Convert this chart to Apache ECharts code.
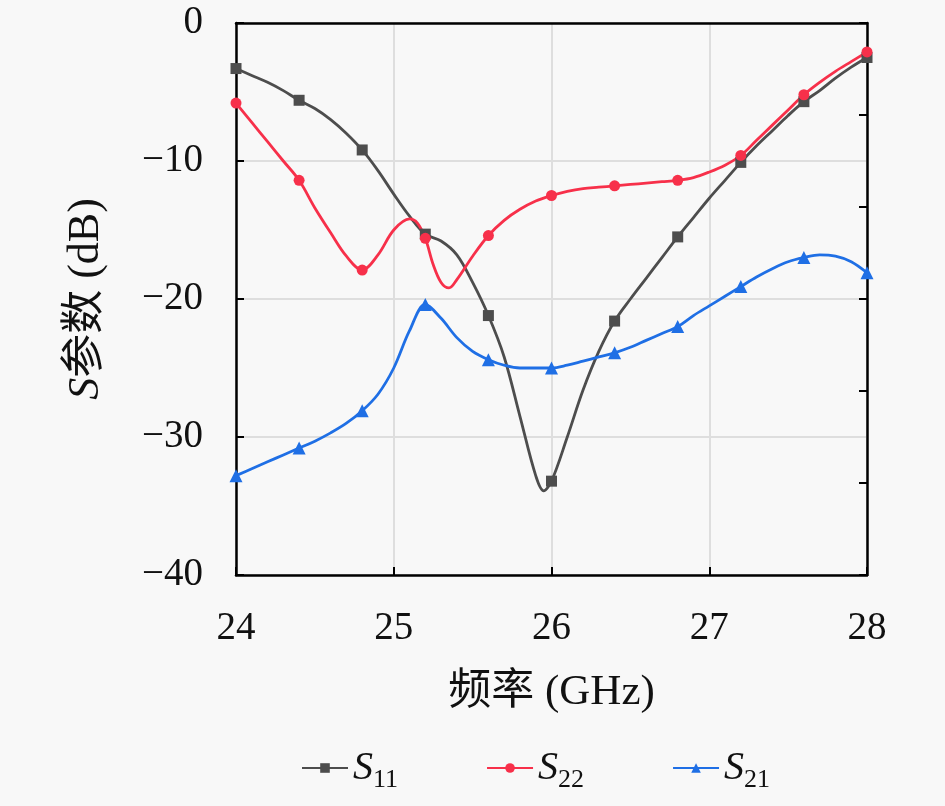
<!DOCTYPE html>
<html>
<head>
<meta charset="utf-8">
<style>html,body{margin:0;padding:0;background:#f8f8f8;}#c{width:945px;height:806px;}</style>
<script src="https://cdn.jsdelivr.net/npm/echarts@6/dist/echarts.min.js"></script>
</head>
<body>
<div id="c"></div>
<script>
const xTicks = [24, 25, 26, 27, 28];
const yTicks = [0, -10, -20, -30, -40];
const markerStep = 0.4;

const s11Freq = [24,24.1,24.2,24.3,24.4,24.5,24.6,24.7,24.8,24.9,25.0,25.1,25.2,25.3,25.4,25.5,25.6,25.7,25.8,25.9,25.95,26.0,26.1,26.2,26.3,26.4,26.5,26.6,26.7,26.8,26.9,27.0,27.1,27.2,27.3,27.4,27.5,27.6,27.7,27.8,27.9,28.0];
const s11 = [-3.3,-3.8,-4.3,-4.9,-5.6,-6.2,-7.0,-8.0,-9.2,-10.7,-12.4,-14.0,-15.3,-15.8,-16.8,-18.8,-21.2,-24.2,-28.5,-32.8,-33.9,-33.2,-30.0,-26.6,-23.8,-21.6,-20.0,-18.5,-17.0,-15.5,-14.1,-12.7,-11.4,-10.1,-8.9,-7.8,-6.7,-5.7,-4.9,-4.0,-3.2,-2.5];

const s22Freq = [24,24.1,24.2,24.3,24.4,24.5,24.6,24.7,24.8,24.9,25.0,25.1,25.15,25.2,25.25,25.3,25.35,25.4,25.5,25.6,25.7,25.8,25.9,26.0,26.1,26.2,26.3,26.4,26.5,26.6,26.7,26.8,26.9,27.0,27.1,27.2,27.3,27.4,27.5,27.6,27.7,27.8,27.9,28.0];
const s22 = [-5.8,-7.2,-8.6,-10.0,-11.4,-13.4,-15.2,-16.9,-17.9,-16.8,-15.0,-14.2,-14.5,-15.6,-17.5,-18.8,-19.2,-18.6,-16.9,-15.4,-14.3,-13.5,-12.9,-12.5,-12.2,-12.0,-11.9,-11.8,-11.7,-11.6,-11.5,-11.4,-11.2,-10.8,-10.3,-9.6,-8.5,-7.4,-6.3,-5.2,-4.3,-3.5,-2.8,-2.1];

const s21Freq = [24,24.1,24.2,24.3,24.4,24.5,24.6,24.7,24.8,24.9,25.0,25.1,25.2,25.3,25.4,25.5,25.6,25.7,25.8,25.9,26.0,26.1,26.2,26.3,26.4,26.5,26.6,26.7,26.8,26.9,27.0,27.1,27.2,27.3,27.4,27.5,27.6,27.7,27.8,27.9,28.0];
const s21 = [-32.8,-32.3,-31.8,-31.3,-30.8,-30.3,-29.7,-29.0,-28.1,-26.9,-25.0,-22.3,-20.4,-21.4,-22.8,-23.8,-24.4,-24.8,-25.0,-25.0,-25.0,-24.8,-24.5,-24.2,-23.9,-23.5,-23.0,-22.5,-22.0,-21.2,-20.5,-19.8,-19.1,-18.4,-17.8,-17.3,-17.0,-16.8,-16.9,-17.3,-18.1];

function pairs(fx, vy) { return fx.map((f, i) => [f, vy[i]]); }
function isMarker(f) { const k = (f - 24) / markerStep; return Math.abs(k - Math.round(k)) < 1e-6; }
function sizeFn(sz) { return function (v) { return isMarker(v[0]) ? sz : 0; }; }

const serif = "'Liberation Serif', 'DejaVu Serif', serif";
const cjk = "'Liberation Serif', 'Noto Sans CJK SC', serif";
const minus = v => (v < 0 ? '\u2212' + (-v) : String(v));

const chart = echarts.init(document.getElementById('c'));
const legendRich = {
  s: { fontFamily: serif, fontStyle: 'italic', fontSize: 40, color: '#111' },
  sub: { fontFamily: serif, fontSize: 26, color: '#111', padding: [24, 0, 0, 0] }
};
const names = { S11: '{s|S}{sub|11}', S22: '{s|S}{sub|22}', S21: '{s|S}{sub|21}' };

function lineSeries(name, data, color, symbol, sz) {
  return {
    name: name, type: 'line', data: data, smooth: 0.35,
    symbol: symbol, symbolSize: sizeFn(sz), showAllSymbol: true,
    lineStyle: { color: color, width: 2.8 },
    itemStyle: { color: color },
    xAxisIndex: 0, yAxisIndex: 0, z: 5
  };
}

chart.setOption({
  backgroundColor: '#f8f8f8',
  animation: false,
  grid: { left: 236, right: 78, top: 23, bottom: 231, containLabel: false },
  legend: {
    bottom: 8, left: 296, itemWidth: 46, itemHeight: 12, itemGap: 88,
    formatter: n => names[n],
    textStyle: { rich: legendRich, fontSize: 40 },
    data: ['S11', 'S22', 'S21']
  },
  xAxis: [{
    type: 'value', min: xTicks[0], max: xTicks[xTicks.length - 1], interval: 1,
    name: '频率 (GHz)', nameLocation: 'middle', nameGap: 96,
    nameTextStyle: { fontFamily: cjk, fontSize: 43, color: '#111' },
    axisLine: { show: true, onZero: false, lineStyle: { color: '#000', width: 2.5 } },
    axisTick: { inside: true, length: 8, lineStyle: { color: '#000', width: 2 } },
    axisLabel: { margin: 34, fontFamily: serif, fontSize: 39, color: '#111' },
    splitLine: { show: true, lineStyle: { color: '#dedede', width: 2 } }
  }, {
    type: 'value', position: 'top', min: 24, max: 28, interval: 1,
    axisLine: { show: true, onZero: false, lineStyle: { color: '#000', width: 2.5 } },
    axisTick: { show: false }, axisLabel: { show: false }, splitLine: { show: false }
  }],
  yAxis: [{
    type: 'value', min: -40, max: 0, interval: 10,
    name: '{i|S}参数 (dB)', nameLocation: 'middle', nameGap: 128, nameRotate: 90,
    nameTextStyle: { fontFamily: cjk, fontSize: 44, color: '#111',
      rich: { i: { fontFamily: serif, fontStyle: 'italic', fontSize: 44, color: '#111' } } },
    axisLine: { show: true, onZero: false, lineStyle: { color: '#000', width: 2.5 } },
    axisTick: { inside: true, length: 8, lineStyle: { color: '#000', width: 2 } },
    axisLabel: { margin: 33, fontFamily: serif, fontSize: 39, color: '#111', formatter: minus },
    splitLine: { show: true, lineStyle: { color: '#dedede', width: 2 } }
  }, {
    type: 'value', position: 'right', min: -40, max: 0, interval: 40 / 6,
    axisLine: { show: true, onZero: false, lineStyle: { color: '#000', width: 2.5 } },
    axisTick: { inside: true, length: 8, lineStyle: { color: '#000', width: 2 } },
    axisLabel: { show: false }, splitLine: { show: false }
  }],
  series: [
    lineSeries('S11', pairs(s11Freq, s11), '#4d4d4d', 'rect', 11),
    lineSeries('S22', pairs(s22Freq, s22), '#f7304a', 'circle', 11),
    lineSeries('S21', pairs(s21Freq, s21), '#1f6fe5', 'triangle', 13)
  ]
});
</script>
</body>
</html>
